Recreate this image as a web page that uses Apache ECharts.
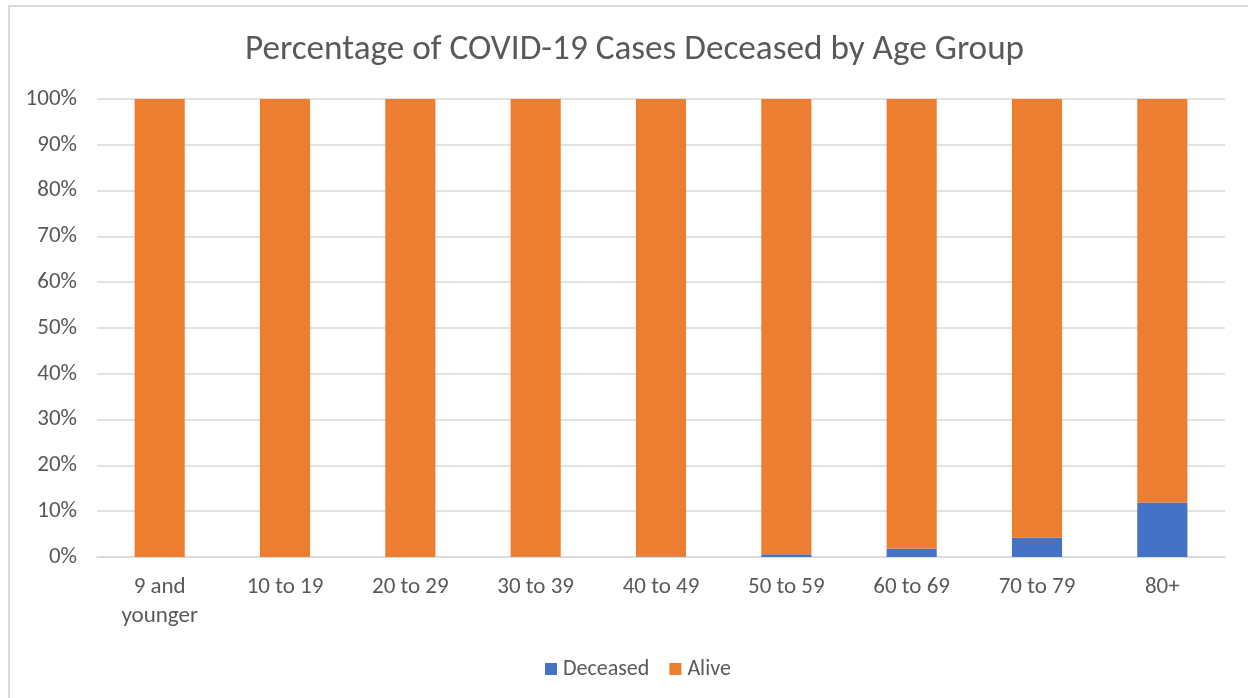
<!DOCTYPE html>
<html>
<head>
<meta charset="utf-8">
<script src="https://cdn.jsdelivr.net/npm/echarts@6/dist/echarts.min.js"></script>
<style>html,body{margin:0;padding:0;background:#fff}#c{width:1248px;height:698px}</style>
</head>
<body>
<div id="c"></div>
<script>
const categories = ['9 and\nyounger', '10 to 19', '20 to 29', '30 to 39', '40 to 49', '50 to 59', '60 to 69', '70 to 79', '80+'];
const deceased = [0.0, 0.0, 0.0, 0.03, 0.1, 0.6, 1.8, 4.2, 11.9];
const alive = [100.0, 100.0, 100.0, 99.97, 99.9, 99.4, 98.2, 95.8, 88.1];
const yTicks = [0, 10, 20, 30, 40, 50, 60, 70, 80, 90, 100];

const chart = echarts.init(document.getElementById('c'), null, {renderer: 'canvas'});
const font = 'Calibri, Carlito, "Open Sans", "Noto Sans", sans-serif';
chart.setOption({
  animation: false,
  backgroundColor: '#fff',
  graphic: [{
    type: 'rect', left: 8, top: 5, z: -1,
    shape: {width: 1260, height: 720},
    style: {fill: '#fff', stroke: '#d9d9d9', lineWidth: 2}
  }],
  title: {
    text: 'Percentage of COVID-19 Cases Deceased by Age Group',
    left: 240, top: 28,
    textStyle: {fontFamily: font, fontSize: 35.2, fontWeight: 'normal', color: '#595959'}
  },
  legend: {
    data: ['Deceased', 'Alive'],
    top: 653, left: 540,
    itemWidth: 12, itemHeight: 12, itemGap: 20,
    icon: 'rect',
    textStyle: {fontFamily: font, fontSize: 22, color: '#595959', padding: [0, 0, 0, 1]}
  },
  grid: {left: 97, right: 23, top: 99, bottom: 141, containLabel: false},
  xAxis: {
    type: 'category', data: categories,
    axisLine: {show: true, lineStyle: {color: '#d9d9d9', width: 1.5}},
    axisTick: {show: false},
    axisLabel: {fontFamily: font, fontSize: 23, color: '#595959', margin: 16, lineHeight: 29}
  },
  yAxis: {
    type: 'value', min: 0, max: 100, interval: 10,
    axisLine: {show: false}, axisTick: {show: false},
    splitLine: {lineStyle: {color: '#d9d9d9', width: 1.5}},
    axisLabel: {fontFamily: font, fontSize: 23, color: '#595959', margin: 20,
      formatter: v => yTicks.includes(v) ? v + '%' : ''}
  },
  series: [
    {name: 'Deceased', type: 'bar', stack: 's', data: deceased, barWidth: '40%',
      itemStyle: {color: '#4472c4'}},
    {name: 'Alive', type: 'bar', stack: 's', data: alive, barWidth: '40%',
      itemStyle: {color: '#ed7d31'}}
  ]
});
</script>
</body>
</html>
